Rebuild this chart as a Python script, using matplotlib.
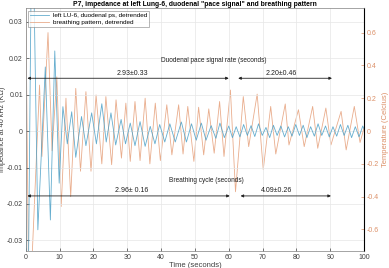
import numpy as np
import matplotlib
matplotlib.use('Agg')
import matplotlib.pyplot as plt

plt.rcParams['font.family'] = ['Liberation Sans', 'DejaVu Sans']

# ---- data ----
# impedance (left axis), alternating extrema in time order
imp_t = [0.0, 0.6, 1.9, 3.6, 5.8, 7.3, 8.6, 9.9, 11.0, 12.3, 13.6, 14.8, 16.5, 17.8,
         19.5, 20.9, 22.5, 23.8, 25.2, 26.6, 28.2, 29.5, 30.9, 32.3, 33.8, 35.3, 36.8,
         38.2, 39.6, 41.1, 42.6, 44.2, 46.0, 47.5, 49.0, 50.4, 51.9, 53.3, 54.8, 56.2,
         57.4, 58.7, 60.0, 61.1, 62.2, 63.3, 64.4, 65.5, 66.6, 67.7, 68.8, 69.9, 71.0,
         72.1, 73.2, 74.3, 75.4, 76.5, 77.6, 78.7, 79.8, 80.9, 82.0, 83.1, 84.2, 85.3,
         86.4, 87.5, 88.6, 89.7, 90.8, 91.9, 93.0, 94.1, 95.2, 96.3, 97.4, 98.5, 99.6, 100.0]
imp_v = [-0.02, -0.06, 0.07, -0.0271, 0.0176, -0.0244, 0.022, -0.0143, 0.0067, -0.0035,
         0.0053, -0.0072, 0.004, -0.004, 0.005, -0.0035, 0.0075, -0.003, 0.005, -0.0038,
         0.0032, -0.0035, 0.0022, -0.004, 0.0026, -0.0042, 0.0013, -0.0035, 0.0018, -0.003,
         0.002, -0.003, 0.0025, -0.003, 0.002, -0.0025, 0.0022, -0.0025, 0.0015, -0.002,
         0.0022, -0.0018, 0.0014, -0.0018, 0.0012, -0.0016, 0.0018, -0.0012, 0.0015, -0.0015,
         0.002, -0.0012, 0.001, -0.0018, 0.0016, -0.0012, 0.0014, -0.0016, 0.0012, -0.0014,
         0.0018, -0.0012, 0.0016, -0.0018, 0.0012, -0.0014, 0.002, -0.0012, 0.0014, -0.0016,
         0.0012, -0.0014, 0.0018, -0.0012, 0.0016, -0.0018, 0.0012, -0.0016, 0.0014, 0.0005]

# breathing pattern (right axis), alternating extrema in time order
br_t = [0.0, 1.0, 4.1, 4.8, 6.6, 7.8, 9.2, 10.5, 11.9, 13.3, 14.8, 16.2, 17.8, 19.3,
        20.8, 22.5, 23.7, 25.4, 26.7, 28.3, 29.6, 30.9, 32.3, 33.8, 35.3, 36.7, 38.3,
        39.8, 41.7, 43.2, 45.2, 46.5, 47.9, 49.7, 51.1, 52.6, 54.1, 55.7, 57.3, 58.6,
        60.5, 62.0, 64.3, 65.9, 68.4, 70.2, 72.4, 73.9, 76.7, 77.8, 80.6, 82.3, 84.8,
        86.3, 88.7, 90.2, 93.2, 94.7, 97.1, 98.8, 100.0]
br_v = [0.85, -1.2, 0.28, -0.155, 0.60, -0.12, 0.33, -0.46, 0.20, -0.40, 0.26, -0.245,
        0.24, -0.245, 0.22, -0.20, 0.21, -0.205, 0.19, -0.165, 0.17, -0.185, 0.18, -0.18,
        0.20, -0.20, 0.17, -0.18, 0.16, -0.145, 0.16, -0.14, 0.15, -0.185, 0.145, -0.145,
        0.135, -0.135, 0.18, -0.155, 0.25, -0.37, 0.21, -0.095, 0.225, -0.235, 0.15, -0.14,
        0.165, -0.085, 0.13, -0.095, 0.15, -0.105, 0.14, -0.085, 0.12, -0.115, 0.15, -0.07,
        0.02]

pace_txt = ['2.93\u00b10.33', '2.20\u00b10.46']
breath_txt = ['2.96\u00b1 0.16', '4.09\u00b10.26']
pace_spans = [(0.5, 60.0), (62.8, 90.5)]
breath_spans = [(0.5, 60.3), (63.5, 90.2)]

BLUE = '#4a9fc6'
ORANGE = '#e08a5c'
ORANGE_TXT = '#dc9068'
GRAY = '#404040'
INK = '#202020'

fig = plt.figure(figsize=(3.89, 2.68), dpi=100)
ax = fig.add_axes([0.066, 0.0623, 0.870, 0.9067])
ax2 = ax.twinx()

l1, = ax.plot(imp_t, imp_v, color=BLUE, lw=0.6, alpha=0.85)
l2, = ax2.plot(br_t, br_v, color=ORANGE, lw=0.6, alpha=0.7)

ax.set_xlim(0, 100)
ax.set_ylim(-0.0330, 0.0337)
ax2.set_ylim(-0.733, 0.748)

ax.set_xticks(np.arange(0, 101, 10))
ax.set_yticks([-0.03, -0.02, -0.01, 0, 0.01, 0.02, 0.03])
ax.set_yticklabels(['-0.03', '-0.02', '-0.01', '0', '0.01', '0.02', '0.03'])
ax2.set_yticks([-0.6, -0.4, -0.2, 0, 0.2, 0.4, 0.6])
ax2.set_yticklabels(['-0.6', '-0.4', '-0.2', '0', '0.2', '0.4', '0.6'])

ax.grid(True, color='#e6e6e6', lw=0.5)
ax.set_axisbelow(True)
ax.tick_params(direction='in', labelsize=5, length=2, width=0.5, colors=GRAY, pad=2)
ax2.tick_params(direction='in', labelsize=5, length=2, width=0.5, colors=ORANGE_TXT, pad=2)
for s in ['left', 'top', 'bottom']:
    ax.spines[s].set_color('#808080')
    ax.spines[s].set_linewidth(0.5)
ax2.spines['right'].set_color(ORANGE_TXT)
ax2.spines['right'].set_linewidth(0.5)
for s in ['left', 'top', 'bottom']:
    ax2.spines[s].set_visible(False)

ax.set_xlabel('Time (seconds)', fontsize=5.5, color=GRAY, labelpad=1)
ax.set_ylabel('Impedance at 40 kHz (K\u03a9)', fontsize=5.2, color=GRAY)
ax.yaxis.set_label_coords(-0.058, 0.5)
ax2.set_ylabel('Temperature (Celcius)', fontsize=5.5, color=ORANGE_TXT, labelpad=2)
ax.set_title('P7, impedance at left Lung-6, duodenal "pace signal" and breathing pattern',
             fontsize=4.9, fontweight='bold', pad=2)

# arrows and annotations (left axis units)
y_pace, y_breath = 0.0145, -0.0178
for (a, b) in pace_spans:
    ax.annotate('', xy=(b, y_pace), xytext=(a, y_pace),
                arrowprops=dict(arrowstyle='<|-|>', color=INK, lw=0.6,
                                mutation_scale=4, shrinkA=0, shrinkB=0))
for (a, b) in breath_spans:
    ax.annotate('', xy=(b, y_breath), xytext=(a, y_breath),
                arrowprops=dict(arrowstyle='<|-|>', color=INK, lw=0.6,
                                mutation_scale=4, shrinkA=0, shrinkB=0))
ax.text(31.4, 0.0159, pace_txt[0], fontsize=5, ha='center', va='center', color=INK)
ax.text(75.5, 0.0159, pace_txt[1], fontsize=5, ha='center', va='center', color=INK)
ax.text(55.5, 0.0195, 'Duodenal pace signal rate (seconds)', fontsize=4.7, ha='center',
        va='center', color=INK)
ax.text(31.4, -0.0163, breath_txt[0], fontsize=5, ha='center', va='center', color=INK)
ax.text(74.0, -0.0163, breath_txt[1], fontsize=5, ha='center', va='center', color=INK)
ax.text(53.4, -0.0137, 'Breathing cycle (seconds)', fontsize=4.7, ha='center',
        va='center', color=INK)

leg = ax.legend([l1, l2], ['left LU-6, duodenal ps, detrended', 'breathing pattern, detrended'],
                loc='upper left', fontsize=4.6, frameon=True, fancybox=False,
                borderpad=0.3, handlelength=3, handletextpad=0.5, labelspacing=0.2,
                borderaxespad=0.4)
leg.get_frame().set_linewidth(0.5)
leg.get_frame().set_edgecolor('#808080')
leg.set_zorder(10)
ax.set_zorder(ax2.get_zorder() + 1)
ax.patch.set_visible(False)

fig.savefig('out.png', dpi=100)
